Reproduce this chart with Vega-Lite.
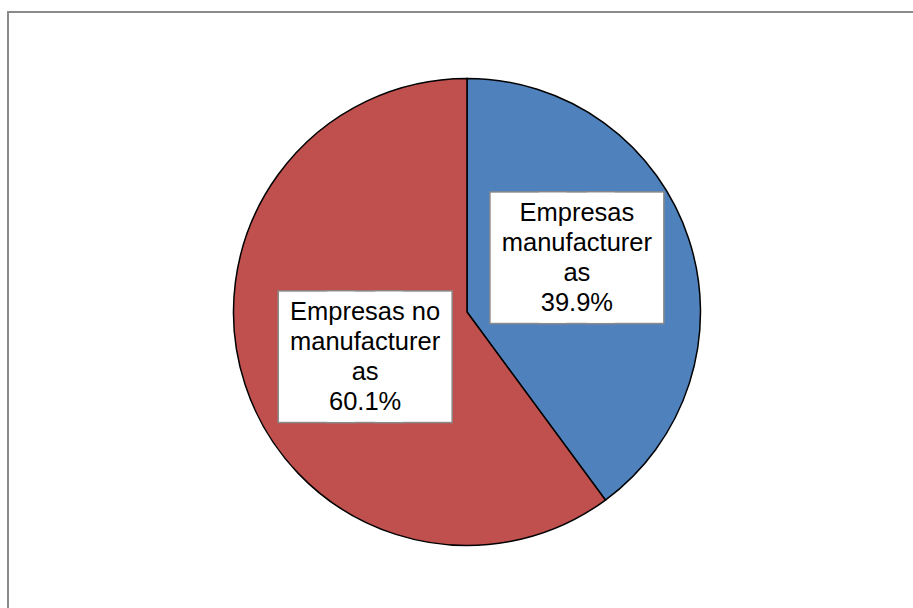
{
  "$schema": "https://vega.github.io/schema/vega-lite/v6.json",
  "width": 918,
  "height": 600,
  "autosize": {"type": "none"},
  "padding": {"left": 8, "top": 12, "right": 0, "bottom": 0},
  "background": "white",
  "view": {"stroke": "#8a8a8a", "strokeWidth": 2, "fill": "white"},
  "config": {"style": {"view": {"stroke": "#8a8a8a", "strokeWidth": 2}}},
  "data": {
    "values": [
      {"category": "Empresas manufactureras", "share": 39.9, "order": 1, "label": "Empresas\nmanufacturer\nas\n39.9%", "box": "█"},
      {"category": "Empresas no manufactureras", "share": 60.1, "order": 2, "label": "Empresas no\nmanufacturer\nas\n60.1%", "box": "█"}
    ]
  },
  "encoding": {
    "theta": {"field": "share", "type": "quantitative", "stack": true},
    "order": {"field": "order", "type": "quantitative"}
  },
  "layer": [
    {
      "mark": {"type": "arc", "outerRadius": 233.5, "stroke": "black", "strokeWidth": 1.5},
      "encoding": {
        "color": {
          "field": "category", "type": "nominal", "legend": null,
          "scale": {"domain": ["Empresas manufactureras", "Empresas no manufactureras"], "range": ["#4F81BD", "#C0504D"]}
        }
      }
    },
    {
      "mark": {"type": "text", "font": "Liberation Sans", "fontSize": 107, "baseline": "middle", "align": "center", "fill": "white", "stroke": "#8a8a8a", "strokeWidth": 3, "thetaOffset": -0.122, "radius": 117, "dx": -44.2, "dy": -4.5},
      "encoding": {"text": {"field": "box", "type": "nominal"}}
    },
    {
      "mark": {"type": "text", "font": "Liberation Sans", "fontSize": 107, "baseline": "middle", "align": "center", "fill": "white", "stroke": "#8a8a8a", "strokeWidth": 3, "thetaOffset": -0.122, "radius": 117, "dx": 4, "dy": -4.5},
      "encoding": {"text": {"field": "box", "type": "nominal"}}
    },
    {
      "mark": {"type": "text", "font": "Liberation Sans", "fontSize": 107, "baseline": "middle", "align": "center", "fill": "white", "stroke": "#8a8a8a", "strokeWidth": 3, "thetaOffset": -0.122, "radius": 117, "dx": 52.2, "dy": -4.5},
      "encoding": {"text": {"field": "box", "type": "nominal"}}
    },
    {
      "mark": {"type": "text", "font": "Liberation Sans", "fontSize": 107, "baseline": "middle", "align": "center", "fill": "white", "thetaOffset": -0.122, "radius": 117, "dx": -44.2, "dy": -4.5},
      "encoding": {"text": {"field": "box", "type": "nominal"}}
    },
    {
      "mark": {"type": "text", "font": "Liberation Sans", "fontSize": 107, "baseline": "middle", "align": "center", "fill": "white", "thetaOffset": -0.122, "radius": 117, "dx": 4, "dy": -4.5},
      "encoding": {"text": {"field": "box", "type": "nominal"}}
    },
    {
      "mark": {"type": "text", "font": "Liberation Sans", "fontSize": 107, "baseline": "middle", "align": "center", "fill": "white", "thetaOffset": -0.122, "radius": 117, "dx": 52.2, "dy": -4.5},
      "encoding": {"text": {"field": "box", "type": "nominal"}}
    },
    {
      "mark": {"type": "text", "font": "Liberation Sans", "fontSize": 25.5, "lineHeight": 30, "lineBreak": "\n", "baseline": "middle", "align": "center", "fill": "black", "thetaOffset": -0.122, "radius": 117, "dx": 4, "dy": -49.5},
      "encoding": {"text": {"field": "label", "type": "nominal"}}
    }
  ]
}
